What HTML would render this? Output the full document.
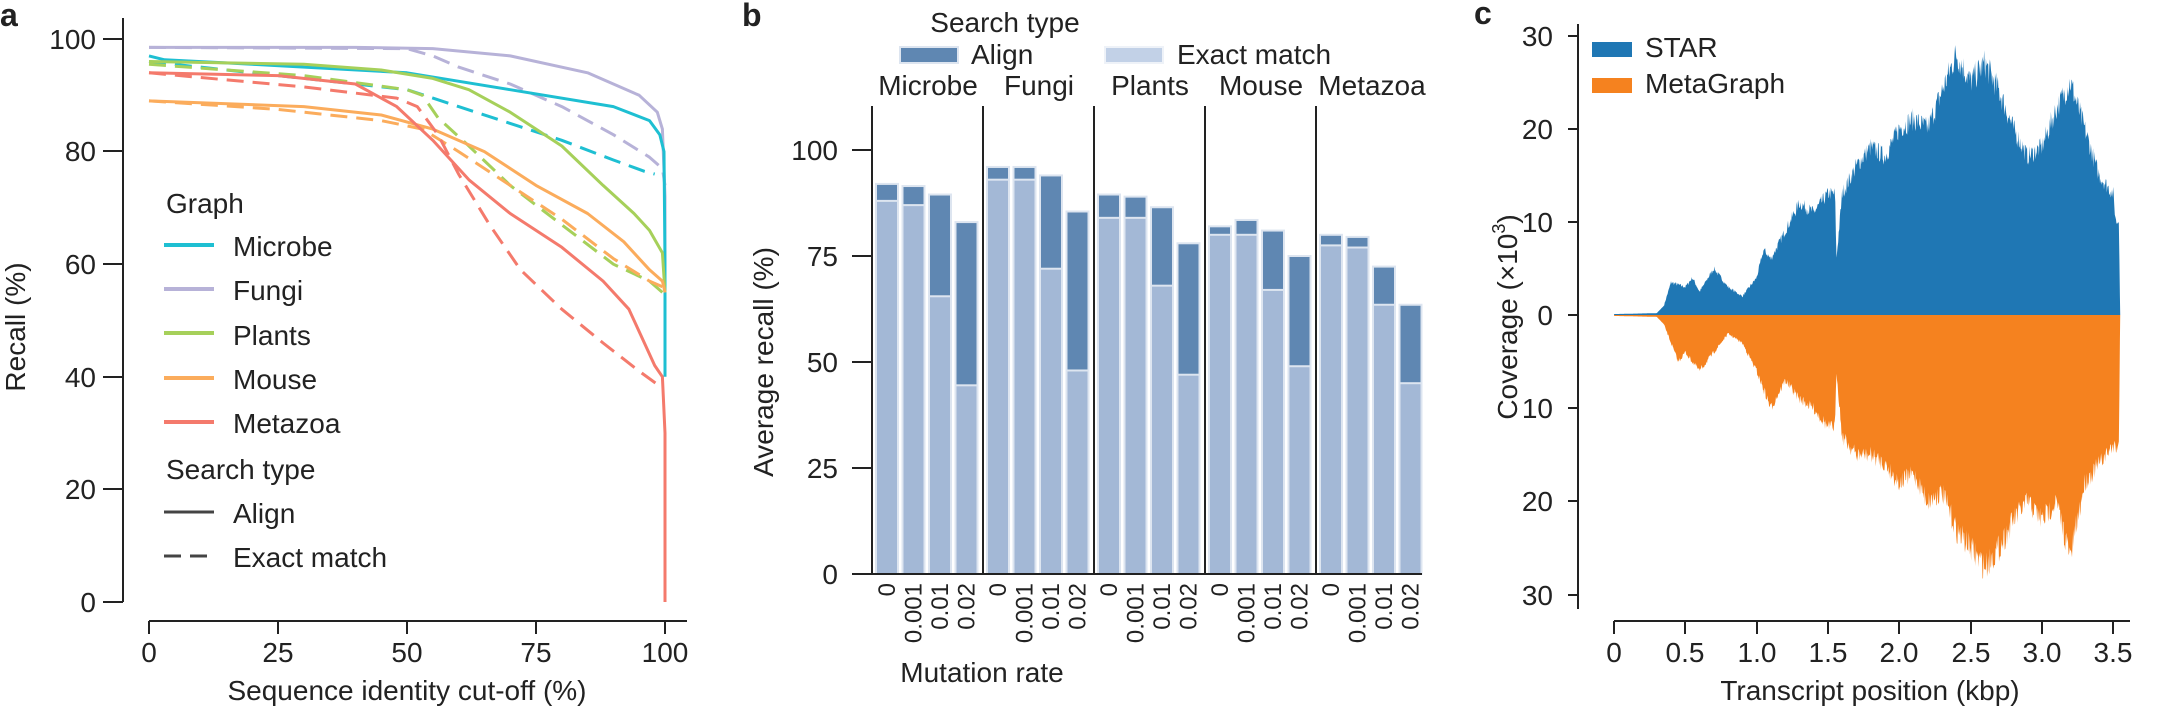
<!DOCTYPE html>
<html><head><meta charset="utf-8"><style>
html,body{margin:0;padding:0;background:#fff;}
svg{display:block;font-family:"Liberation Sans",sans-serif;}
</style></head><body>
<svg id="s" width="2167" height="711" viewBox="0 0 2167 711" xmlns="http://www.w3.org/2000/svg">
<g id="a-curves" fill="none" stroke-width="3"></g>
<g id="b-bars"></g>
<g id="c-area"></g>
<g stroke="#222" stroke-width="2" fill="none">
 <line x1="123" y1="18" x2="123" y2="602"/>
 <line x1="103" y1="39" x2="123" y2="39"/><line x1="103" y1="151" x2="123" y2="151"/><line x1="103" y1="264" x2="123" y2="264"/><line x1="103" y1="377" x2="123" y2="377"/><line x1="103" y1="489" x2="123" y2="489"/><line x1="103" y1="602" x2="123" y2="602"/>
 <line x1="149" y1="621" x2="687" y2="621"/>
 <line x1="149" y1="621" x2="149" y2="634"/><line x1="278" y1="621" x2="278" y2="634"/><line x1="407" y1="621" x2="407" y2="634"/><line x1="536" y1="621" x2="536" y2="634"/><line x1="665" y1="621" x2="665" y2="634"/>
 <line x1="872" y1="106" x2="872" y2="574"/>
 <line x1="852" y1="150" x2="872" y2="150"/><line x1="852" y1="256" x2="872" y2="256"/><line x1="852" y1="362" x2="872" y2="362"/><line x1="852" y1="468" x2="872" y2="468"/><line x1="852" y1="574" x2="872" y2="574"/>
 <line x1="872" y1="574" x2="1422" y2="574"/>
 <line x1="983" y1="106" x2="983" y2="574"/><line x1="1094" y1="106" x2="1094" y2="574"/><line x1="1205" y1="106" x2="1205" y2="574"/><line x1="1316" y1="106" x2="1316" y2="574"/>
 <line x1="1578" y1="24" x2="1578" y2="609"/>
 <line x1="1568" y1="36" x2="1578" y2="36"/><line x1="1568" y1="129" x2="1578" y2="129"/><line x1="1568" y1="222" x2="1578" y2="222"/><line x1="1568" y1="315" x2="1578" y2="315"/><line x1="1568" y1="408" x2="1578" y2="408"/><line x1="1568" y1="501" x2="1578" y2="501"/><line x1="1568" y1="595" x2="1578" y2="595"/>
 <line x1="1614" y1="621" x2="2130" y2="621"/>
 <line x1="1614" y1="621" x2="1614" y2="634"/><line x1="1685" y1="621" x2="1685" y2="634"/><line x1="1757" y1="621" x2="1757" y2="634"/><line x1="1828" y1="621" x2="1828" y2="634"/><line x1="1899" y1="621" x2="1899" y2="634"/><line x1="1971" y1="621" x2="1971" y2="634"/><line x1="2042" y1="621" x2="2042" y2="634"/><line x1="2113" y1="621" x2="2113" y2="634"/>
</g>
<g fill="#222" font-size="28">
 <text x="0" y="26" font-size="32" font-weight="bold">a</text>
 <text x="96" y="49" text-anchor="end">100</text><text x="96" y="161" text-anchor="end">80</text><text x="96" y="274" text-anchor="end">60</text><text x="96" y="387" text-anchor="end">40</text><text x="96" y="499" text-anchor="end">20</text><text x="96" y="612" text-anchor="end">0</text>
 <text x="149" y="662" text-anchor="middle">0</text><text x="278" y="662" text-anchor="middle">25</text><text x="407" y="662" text-anchor="middle">50</text><text x="536" y="662" text-anchor="middle">75</text><text x="665" y="662" text-anchor="middle">100</text>
 <text x="407" y="700" text-anchor="middle">Sequence identity cut-off (%)</text>
 <text transform="translate(25,327) rotate(-90)" text-anchor="middle">Recall (%)</text>
 <text x="166" y="213">Graph</text>
 <text x="233" y="256">Microbe</text><text x="233" y="300">Fungi</text><text x="233" y="345">Plants</text><text x="233" y="389">Mouse</text><text x="233" y="433">Metazoa</text>
 <text x="166" y="479">Search type</text>
 <text x="233" y="523">Align</text><text x="233" y="567">Exact match</text>

 <text x="742" y="26" font-size="32" font-weight="bold">b</text>
 <text x="1005" y="32" text-anchor="middle">Search type</text>
 <text x="971" y="64">Align</text><text x="1177" y="64">Exact match</text>
 <text x="928" y="95" text-anchor="middle">Microbe</text><text x="1039" y="95" text-anchor="middle">Fungi</text><text x="1150" y="95" text-anchor="middle">Plants</text><text x="1261" y="95" text-anchor="middle">Mouse</text><text x="1372" y="95" text-anchor="middle">Metazoa</text>
 <text x="838" y="160" text-anchor="end">100</text><text x="838" y="266" text-anchor="end">75</text><text x="838" y="372" text-anchor="end">50</text><text x="838" y="478" text-anchor="end">25</text><text x="838" y="584" text-anchor="end">0</text>
 <text transform="translate(773,362) rotate(-90)" text-anchor="middle">Average recall (%)</text>
 <text x="982" y="682" text-anchor="middle">Mutation rate</text>

 <text x="1474" y="24" font-size="32" font-weight="bold">c</text>
 <text x="1553" y="46" text-anchor="end">30</text><text x="1553" y="139" text-anchor="end">20</text><text x="1553" y="232" text-anchor="end">10</text><text x="1553" y="325" text-anchor="end">0</text><text x="1553" y="418" text-anchor="end">10</text><text x="1553" y="511" text-anchor="end">20</text><text x="1553" y="605" text-anchor="end">30</text>
 <text x="1614" y="662" text-anchor="middle">0</text><text x="1685" y="662" text-anchor="middle">0.5</text><text x="1757" y="662" text-anchor="middle">1.0</text><text x="1828" y="662" text-anchor="middle">1.5</text><text x="1899" y="662" text-anchor="middle">2.0</text><text x="1971" y="662" text-anchor="middle">2.5</text><text x="2042" y="662" text-anchor="middle">3.0</text><text x="2113" y="662" text-anchor="middle">3.5</text>
 <text x="1870" y="700" text-anchor="middle">Transcript position (kbp)</text>
 <text transform="translate(1517,317) rotate(-90)" text-anchor="middle">Coverage (×10<tspan font-size="18" dy="-12">3</tspan><tspan dy="12">)</tspan></text>
 <text x="1645" y="57">STAR</text><text x="1645" y="93">MetaGraph</text>
</g>
<g font-size="24" fill="#222" id="blabels"></g>
<g stroke-width="4">
 <line x1="164" y1="245" x2="214" y2="245" stroke="#1ebfd2"/>
 <line x1="164" y1="289" x2="214" y2="289" stroke="#b7b2d8"/>
 <line x1="164" y1="333" x2="214" y2="333" stroke="#a6d05a"/>
 <line x1="164" y1="378" x2="214" y2="378" stroke="#fbac5c"/>
 <line x1="164" y1="422" x2="214" y2="422" stroke="#f47a6c"/>
 <line x1="164" y1="512" x2="214" y2="512" stroke="#444" stroke-width="3"/>
 <line x1="164" y1="556" x2="214" y2="556" stroke="#444" stroke-width="3" stroke-dasharray="17,9"/>
</g>
<rect x="900" y="47" width="58" height="16" fill="#5f87b2" stroke="#dde5f0" stroke-width="2"/>
<rect x="1105" y="47" width="58" height="16" fill="#c2d1e7" stroke="#eef2f8" stroke-width="2"/>
<rect x="1592" y="42" width="40" height="15" fill="#1f77b4"/>
<rect x="1592" y="78" width="40" height="15" fill="#f5821f"/>
</svg>
<script>
var NS="http://www.w3.org/2000/svg";
function el(t,a,p){var e=document.createElementNS(NS,t);for(var k in a)e.setAttribute(k,a[k]);p.appendChild(e);return e;}
var ga=document.getElementById("a-curves");
function AX(v){return 149+v*5.16;} function AY(v){return 602-v*5.63;}
var C={mi:"#1ebfd2",fu:"#b7b2d8",pl:"#a6d05a",mo:"#fbac5c",me:"#f47a6c"};
var curves=[
["fu",0,[[0,98.5],[40,98.5],[55,98.3],[70,97],[85,94],[95,90],[98.5,87],[99.5,84],[100,72],[100,52]]],
["fu",1,[[0,98.5],[50,98.3],[55,97],[60,95],[70,92],[80,88],[90,83],[97,79],[99.5,77],[100,74]]],
["mi",0,[[0,97],[3,96.3],[20,95.5],[50,94],[70,91],[90,88],[97,85.5],[99,83],[99.8,80],[100,60],[100,40]]],
["mi",1,[[0,96],[20,94],[40,92],[50,91],[55,89.5],[60,88],[70,85],[80,82],[90,78.5],[96,76.5],[98,76]]],
["pl",0,[[0,96],[30,95.5],[45,94.5],[55,93],[62,91],[70,87],[80,81],[88,74],[94,69],[97,66],[99.5,62],[100,55]]],
["pl",1,[[0,95.5],[30,93.5],[50,91],[53,90],[56,86],[62,81],[70,74],[80,67],[90,60],[97,57],[99.5,55]]],
["mo",0,[[0,89],[30,88],[45,86.5],[55,84],[65,80],[75,74],[85,69],[92,64],[97,59],[99.5,57],[100,55]]],
["mo",1,[[0,89],[25,87.5],[45,85.5],[53,84],[60,80],[70,74],[80,68],[90,61],[97,57],[99.5,56]]],
["me",0,[[0,94],[25,93.5],[40,92],[48,88],[55,82],[62,75],[70,69],[80,63],[88,57],[93,52],[96,46],[98,42],[99.5,40],[100,30],[100,0]]],
["me",1,[[0,94],[30,91.5],[48,89.5],[52,88],[56,83],[60,76],[66,67],[72,59],[80,52],[88,46],[95,41],[99.5,38]]]
];
curves.forEach(function(c){var d="";c[2].forEach(function(p,i){d+=(i?"L":"M")+AX(p[0]).toFixed(1)+","+AY(p[1]).toFixed(1);});
var a={d:d,stroke:C[c[0]],"stroke-linejoin":"round"};if(c[1])a["stroke-dasharray"]="17,9";el("path",a,ga);});
var gb=document.getElementById("b-bars"),gl=document.getElementById("blabels");
function BY(v){return 574-v*4.24;}
var al=[[92,91.5,89.5,83],[96,96,94,85.5],[89.5,89,86.5,78],[82,83.5,81,75],[80,79.5,72.5,63.5]];
var ex=[[88,87,65.5,44.5],[93,93,72,48],[84,84,68,47],[80,80,67,49],[77.5,77,63.5,45]];
var lab=["0","0.001","0.01","0.02"];
for(var g=0;g<5;g++)for(var i=0;i<4;i++){var x=872+g*111+4+i*26.5;
el("rect",{x:x,y:BY(al[g][i]),width:22,height:BY(0)-BY(al[g][i]),fill:"#5f87b2",stroke:"#dde5f0","stroke-width":2},gb);
el("rect",{x:x,y:BY(ex[g][i]),width:22,height:BY(0)-BY(ex[g][i]),fill:"#a3b8d6",stroke:"#dde5f0","stroke-width":2},gb);
var t=el("text",{transform:"translate("+(x+19)+",583) rotate(-90)","text-anchor":"end"},gl);t.textContent=lab[i];}
var gc=document.getElementById("c-area");
function CX(k){return 1614+k*142.6;}
var topD=[[0,0.1],[0.3,0.2],[0.35,1],[0.4,3.5],[0.5,3],[0.55,4],[0.6,2.5],[0.7,5],[0.8,3],[0.9,2],[1.0,4],[1.05,7],[1.1,6],[1.2,9],[1.3,12],[1.4,11],[1.5,13],[1.55,13],[1.56,6],[1.6,13],[1.7,16],[1.8,18],[1.9,17],[2.0,20],[2.1,21],[2.2,20],[2.3,24],[2.4,28],[2.5,25],[2.6,27],[2.7,24],[2.8,20],[2.9,17],[3.0,18],[3.1,22],[3.2,25],[3.3,20],[3.4,15],[3.5,13],[3.52,10],[3.54,10],[3.55,0]];
var botD=[[0,0.1],[0.3,0.2],[0.35,1],[0.4,3],[0.45,5],[0.5,4],[0.6,6],[0.7,4],[0.8,2],[0.9,3],[1.0,6],[1.1,10],[1.2,7],[1.3,9],[1.4,10],[1.5,12],[1.55,12],[1.56,6],[1.6,13],[1.7,15],[1.8,15],[1.9,16],[2.0,18],[2.1,17],[2.2,20],[2.3,19],[2.4,23],[2.5,25],[2.6,27],[2.7,25],[2.8,22],[2.9,20],[3.0,22],[3.1,20],[3.2,26],[3.3,18],[3.4,16],[3.5,14],[3.54,14],[3.55,0]];
var seed=7;function rnd(){seed=(seed*16807)%2147483647;return seed/2147483647;}
function interp(arr,k){for(var i=1;i<arr.length;i++){if(k<=arr[i][0]){var a=arr[i-1],b=arr[i];var t=(k-a[0])/((b[0]-a[0])||1);return a[1]+(b[1]-a[1])*t;}}return 0;}
function area(arr,sign,col){var d="M"+CX(0)+",315";for(var k=0;k<=3.55;k+=0.004){var v=interp(arr,k);if(k>0.35&&k<3.54)v*=1+(rnd()-0.5)*0.12;d+="L"+CX(k).toFixed(1)+","+(315-sign*v*9.33).toFixed(1);}
d+="L"+CX(3.55)+",315Z";el("path",{d:d,fill:col},gc);}
area(topD,1,"#1f77b4");area(botD,-1,"#f5821f");
</script>
</body></html>
